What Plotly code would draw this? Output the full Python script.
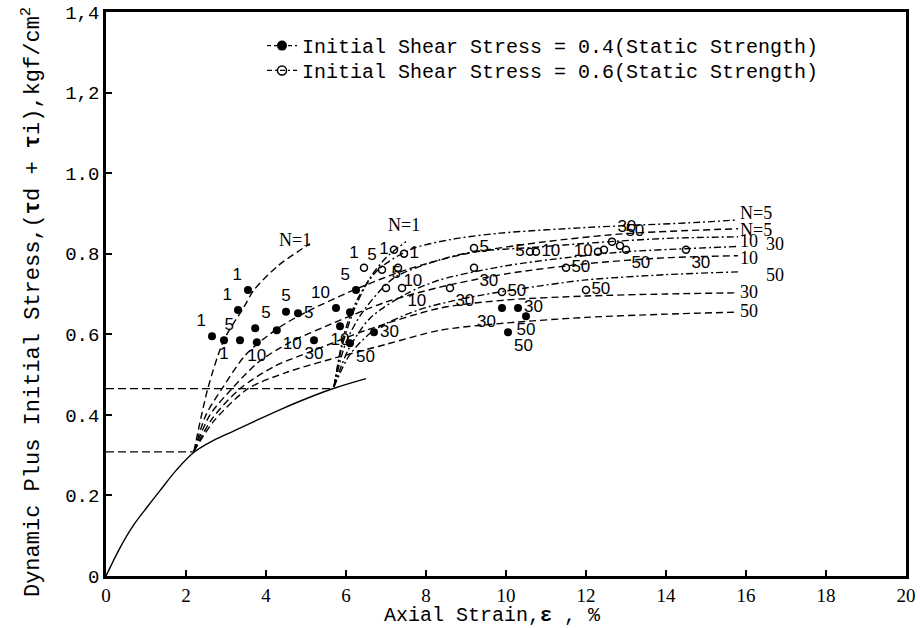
import plotly.graph_objects as go

# ---------------- data ----------------
x_ticks = [0, 2, 4, 6, 8, 10, 12, 14, 16, 18, 20]
y_ticks = [0, 0.2, 0.4, 0.6, 0.8, 1.0, 1.2, 1.4]
y_ticklabels = ["0", "0.2", "0.4", "0.6", "0.8", "1.0", "1,2", "1,4"]

# static stress-strain curve (solid)
static_x = [0, 0.35, 0.68, 1.02, 1.35, 1.77, 2.2, 2.7, 3.2, 3.8, 4.4, 5.0, 5.7, 6.5]
static_y = [0, 0.07, 0.125, 0.17, 0.212, 0.264, 0.307, 0.337, 0.36, 0.388, 0.415, 0.44, 0.466, 0.49]

# horizontal reference lines (initial stress levels)
ref_levels = [0.308, 0.465]
ref_ends = [2.2, 5.7]

# Initial shear stress = 0.4 group (dashed), curves for N cycles
A1_x = [2.2, 2.55, 2.95, 3.45, 3.7, 4.3, 5.1]
A1_y = [0.31, 0.467, 0.586, 0.668, 0.71, 0.77, 0.825]
A5_x = [2.2, 2.5, 2.9, 3.5, 4.3, 5.0, 6.2, 7.5, 9.0, 11.0, 13.0, 15.8]
A5_y = [0.31, 0.40, 0.465, 0.55, 0.615, 0.655, 0.71, 0.76, 0.80, 0.83, 0.85, 0.862]
A10_x = [2.2, 2.6, 3.15, 3.8, 4.6, 5.5, 7.0, 8.35, 10.0, 12.0, 14.0, 15.8]
A10_y = [0.31, 0.40, 0.465, 0.53, 0.58, 0.62, 0.68, 0.717, 0.75, 0.775, 0.79, 0.795]
A30_x = [2.2, 2.65, 3.35, 4.2, 5.2, 6.5, 8.35, 10.0, 12.0, 14.0, 15.8]
A30_y = [0.31, 0.39, 0.465, 0.52, 0.56, 0.61, 0.665, 0.685, 0.695, 0.70, 0.703]
A50_x = [2.2, 2.7, 3.55, 4.5, 5.5, 7.0, 8.35, 10.0, 12.0, 14.0, 15.8]
A50_y = [0.31, 0.385, 0.465, 0.505, 0.535, 0.575, 0.61, 0.628, 0.642, 0.65, 0.655]

# Initial shear stress = 0.6 group (dash-dot)
B1_x = [5.7, 5.9, 6.2, 6.6, 7.0, 7.5]
B1_y = [0.47, 0.57, 0.66, 0.74, 0.79, 0.83]
B5_x = [5.7, 5.95, 6.3, 6.8, 7.6, 8.6, 9.85, 12.0, 14.85, 15.8]
B5_y = [0.47, 0.60, 0.69, 0.76, 0.81, 0.835, 0.851, 0.865, 0.878, 0.884]
B10_x = [5.7, 6.0, 6.45, 7.2, 8.35, 9.2, 10.6, 12.3, 14.0, 15.8]
B10_y = [0.47, 0.58, 0.66, 0.74, 0.785, 0.805, 0.815, 0.828, 0.838, 0.842]
B30_x = [5.7, 6.05, 6.6, 7.5, 8.35, 10.0, 11.5, 13.0, 14.6, 15.8]
B30_y = [0.47, 0.56, 0.64, 0.70, 0.735, 0.77, 0.79, 0.805, 0.813, 0.818]
B50_x = [5.7, 6.1, 6.7, 7.8, 9.0, 10.5, 12.0, 14.0, 15.8]
B50_y = [0.47, 0.55, 0.61, 0.66, 0.69, 0.715, 0.735, 0.748, 0.755]

# end labels of curves
A_curve_labels = ["N=1", "N=5", "10", "30", "50"]
B_curve_labels = ["N=1", "N=5", "10", "30", "50"]

# measured points, 0.4 group (filled), labelled
ptA_x = [2.65, 2.95, 3.3, 3.55, 3.35, 3.73, 3.77, 4.27, 4.5, 4.8, 5.2, 5.75, 6.25, 5.85, 6.1, 6.7, 9.9, 10.3, 10.05, 10.5]
ptA_y = [0.595, 0.585, 0.66, 0.71, 0.585, 0.615, 0.58, 0.61, 0.656, 0.652, 0.585, 0.665, 0.71, 0.62, 0.578, 0.605, 0.665, 0.665, 0.605, 0.645]
ptA_lbl = ["1", "1", "1", "1", "5", "5", "10", "10", "5", "5", "30", "10", "5", "10", "50", "30", "30", "30", "50", "50"]
# unlabelled filled points
ptA_plain_x = [6.1]
ptA_plain_y = [0.655]

# measured points, 0.6 group (open), labelled
ptB_x = [7.2, 7.45, 6.45, 6.9, 7.3, 7.0, 7.4, 9.2, 10.6, 10.75, 12.3, 12.65, 12.85, 13.0, 14.5, 11.5, 12.0, 9.2, 8.6, 9.9]
ptB_y = [0.81, 0.80, 0.765, 0.76, 0.765, 0.715, 0.715, 0.814, 0.805, 0.805, 0.805, 0.83, 0.82, 0.81, 0.81, 0.765, 0.71, 0.765, 0.715, 0.705]
ptB_lbl = ["1", "1", "1", "5", "10", "5", "10", "5", "5", "10", "10", "30", "50", "50", "30", "50", "50", "30", "30", "50"]
# unlabelled open points
ptB_plain_x = [12.45]
ptB_plain_y = [0.81]

legend_A = "Initial Shear Stress = 0.4(Static Strength)"
legend_B = "Initial Shear Stress = 0.6(Static Strength)"

# ---------------- styling ----------------
DASH_A = "7px,4px"
DASH_B = "7px,3px,2px,3px"
LBL_FONT = dict(family="Liberation Sans", size=17, color="black")
LEG_FONT = dict(family="Liberation Mono", size=20, color="black")

ptA_pos = ["top left", "bottom center", "top left", "top left", "top left", "top right",
           "bottom center", "bottom right", "top center", "middle right", "bottom center",
           "top left", "top left", "bottom center", "bottom right", "middle right",
           "bottom left", "middle right", "bottom right", "bottom center"]
ptB_pos = ["middle left", "middle right", "top left", "top left", "bottom right", "top right",
           "bottom right", "middle right", "middle left", "middle right", "middle left",
           "top right", "top right", "bottom right", "bottom right", "middle right", "middle right",
           "bottom right", "bottom right", "middle right"]

fig = go.Figure()

# static curve
fig.add_trace(go.Scatter(x=static_x, y=static_y, mode="lines",
                         line=dict(color="black", width=1.4, shape="spline", smoothing=1.0),
                         showlegend=False, hoverinfo="skip"))

# horizontal reference lines
for lvl, xe in zip(ref_levels, ref_ends):
    fig.add_trace(go.Scatter(x=[0, xe], y=[lvl, lvl], mode="lines",
                             line=dict(color="black", width=1.3, dash="8px,4px"),
                             showlegend=False, hoverinfo="skip"))

A_curves = [(A1_x, A1_y), (A5_x, A5_y), (A10_x, A10_y), (A30_x, A30_y), (A50_x, A50_y)]
B_curves = [(B1_x, B1_y), (B5_x, B5_y), (B10_x, B10_y), (B30_x, B30_y), (B50_x, B50_y)]

for cx, cy in A_curves:
    fig.add_trace(go.Scatter(x=cx, y=cy, mode="lines",
                             line=dict(color="black", width=1.4, dash=DASH_A, shape="spline", smoothing=0.8),
                             showlegend=False, hoverinfo="skip"))
for cx, cy in B_curves:
    fig.add_trace(go.Scatter(x=cx, y=cy, mode="lines",
                             line=dict(color="black", width=1.4, dash=DASH_B, shape="spline", smoothing=0.8),
                             showlegend=False, hoverinfo="skip"))

# points
fig.add_trace(go.Scatter(x=ptA_x, y=ptA_y, mode="markers+text", text=ptA_lbl, textposition=ptA_pos,
                         textfont=LBL_FONT, marker=dict(symbol="circle", size=8, color="black"),
                         showlegend=False, hoverinfo="skip", cliponaxis=False))
fig.add_trace(go.Scatter(x=ptA_plain_x, y=ptA_plain_y, mode="markers",
                         marker=dict(symbol="circle", size=8, color="black"),
                         showlegend=False, hoverinfo="skip"))
fig.add_trace(go.Scatter(x=ptB_x, y=ptB_y, mode="markers+text", text=ptB_lbl, textposition=ptB_pos,
                         textfont=LBL_FONT,
                         marker=dict(symbol="circle-open", size=7, color="black", line=dict(width=1.5)),
                         showlegend=False, hoverinfo="skip", cliponaxis=False))
fig.add_trace(go.Scatter(x=ptB_plain_x, y=ptB_plain_y, mode="markers",
                         marker=dict(symbol="circle-open", size=7, color="black", line=dict(width=1.5)),
                         showlegend=False, hoverinfo="skip"))

# legend entries (two legends so that the row spacing can follow the reference)
fig.add_trace(go.Scatter(x=[None], y=[None], mode="lines+markers", name=legend_A, legend="legend",
                         line=dict(color="black", width=1.4, dash="4px,3px"),
                         marker=dict(symbol="circle", size=10, color="black")))
fig.add_trace(go.Scatter(x=[None], y=[None], mode="lines+markers", name=legend_B, legend="legend2",
                         line=dict(color="black", width=1.4, dash="5px,3px,2px,3px"),
                         marker=dict(symbol="circle-open", size=9, color="black", line=dict(width=1.5))))

annotations = []
# N=1 labels
annotations.append(dict(x=A1_x[-1], y=A1_y[-1], text=A_curve_labels[0], showarrow=False,
                        xanchor="right", yanchor="middle", xshift=3, yshift=4,
                        font=dict(family="Liberation Serif", size=18, color="black")))
annotations.append(dict(x=B1_x[-1], y=B1_y[-1], text=B_curve_labels[0], showarrow=False,
                        xanchor="center", yanchor="bottom", xshift=-2, yshift=5,
                        font=dict(family="Liberation Serif", size=18, color="black")))
# right end labels
right_specs = [
    (B5_x, B5_y, B_curve_labels[1], 0, 7),
    (A5_x, A5_y, A_curve_labels[1], 0, -1),
    (B10_x, B10_y, B_curve_labels[2], 0, -4),
    (B30_x, B30_y, B_curve_labels[3], 26, 2),
    (A10_x, A10_y, A_curve_labels[2], 0, -2),
    (B50_x, B50_y, B_curve_labels[4], 26, -3),
    (A30_x, A30_y, A_curve_labels[3], 0, 1),
    (A50_x, A50_y, A_curve_labels[4], 0, 1),
]
for cx, cy, lbl, xs, ys in right_specs:
    annotations.append(dict(x=cx[-1], y=cy[-1], text=lbl, showarrow=False, xanchor="left",
                            yanchor="middle", xshift=xs, yshift=ys,
                            font=dict(family="Liberation Serif", size=18, color="black")))

# axis titles
annotations.append(dict(xref="paper", yref="paper", x=-0.093, y=0.485,
                        text="Dynamic Plus Initial Stress,(<b>τ</b>d + <b>τ</b>i),kgf/cm<sup>2</sup>",
                        textangle=-90, showarrow=False, xanchor="center", yanchor="middle",
                        font=dict(family="Liberation Mono", size=22, color="black")))
annotations.append(dict(xref="paper", yref="paper", x=0.4825, y=-0.07,
                        text="Axial Strain,<b>ε</b> , %", showarrow=False,
                        xanchor="center", yanchor="middle",
                        font=dict(family="Liberation Mono", size=20, color="black")))

fig.update_layout(
    width=920, height=628,
    margin=dict(l=106, r=14, t=12, b=52, autoexpand=False),
    plot_bgcolor="white", paper_bgcolor="white",
    showlegend=True,
    legend=dict(x=0.195, y=0.975, xanchor="left", yanchor="top", bgcolor="rgba(0,0,0,0)",
                font=LEG_FONT, tracegroupgap=0),
    legend2=dict(x=0.195, y=0.931, xanchor="left", yanchor="top", bgcolor="rgba(0,0,0,0)",
                 font=LEG_FONT, tracegroupgap=0),
    annotations=annotations,
)
fig.update_xaxes(range=[0, 20], tickvals=x_ticks, ticks="inside", ticklen=6, tickwidth=2,
                 tickcolor="black", showline=True, linewidth=2.5, linecolor="black", mirror=True,
                 showgrid=False, zeroline=False, automargin=False, ticklabeloverflow="allow",
                 tickfont=dict(family="Liberation Serif", size=19, color="black"))
fig.update_yaxes(range=[0, 1.4], tickvals=y_ticks, ticktext=y_ticklabels, ticks="inside", ticklen=6,
                 tickwidth=2, tickcolor="black", showline=True, linewidth=2.5, linecolor="black",
                 mirror=True, showgrid=False, zeroline=False, automargin=False, ticklabeloverflow="allow",
                 tickfont=dict(family="Liberation Mono", size=19, color="black"))

# remove the default 8 px body margin so the figure sits at the window's top-left corner
fig.write_html("out.html", config={"displayModeBar": False},
               post_script="document.body.style.margin='0px';")
